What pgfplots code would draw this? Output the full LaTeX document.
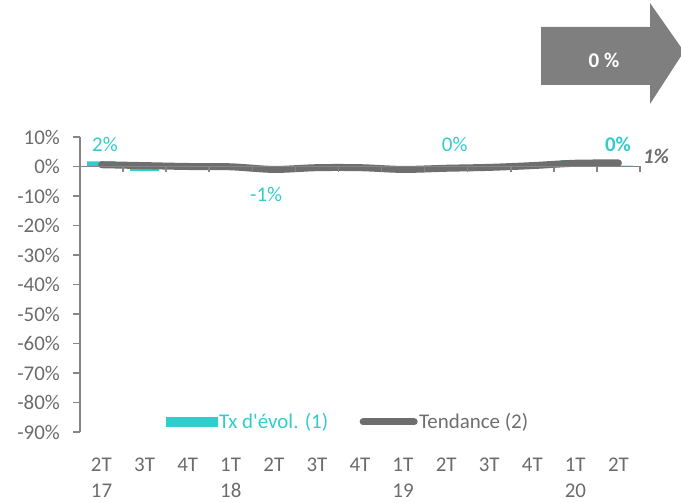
\documentclass[border=0pt]{standalone}
\usepackage{pgfplots}
\pgfplotsset{compat=1.18}
\usepackage{fontspec}
\setmainfont{Carlito}
\definecolor{tealc}{HTML}{33CCCC}
\definecolor{trend}{HTML}{6E6E6E}
\definecolor{axc}{HTML}{858585}
\definecolor{txt}{HTML}{6B6B6B}
\definecolor{arrowc}{HTML}{7F7F7F}
\newcommand{\cf}{\fontsize{21}{26}\selectfont}
\begin{document}
\cf
\begin{tikzpicture}[font=\cf]
\useasboundingbox (0bp,0bp) rectangle (681bp,503bp);
\fill[arrowc] (541bp,418bp) -- (650bp,418bp) -- (650bp,399bp) -- (684bp,451.5bp) -- (650bp,500bp) -- (650bp,476bp) -- (541bp,476bp) -- cycle;
\node[text=white,font=\cf\bfseries] at (604bp,443bp) {0 \%};

\begin{axis}[at={(80bp,71bp)}, anchor=south west, scale only axis, width=560bp, height=295bp,
  xmin=-0.5, xmax=12.5, ymin=-90, ymax=10,
  axis y line*=left, axis x line*=bottom, x axis line style={draw=none},
  y axis line style={axc, line width=1.5bp},
  ytick={-90,-80,...,10},
  yticklabels={-90\%,-80\%,-70\%,-60\%,-50\%,-40\%,-30\%,-20\%,-10\%,0\%,10\%},
  ytick align=outside, major tick length=7bp,
  y tick style={axc, line width=1.5bp},
  x tick style={draw=none},
  xtick={0,...,12},
  xticklabels={{2T\\17},3T,4T,{1T\\18},2T,3T,4T,{1T\\19},2T,3T,4T,{1T\\20},2T},
  xticklabel style={align=left, anchor=north, yshift=-19bp, font=\cf, text=txt},
  yticklabel style={font=\cf, text=txt, xshift=-6bp},
  legend style={at={(0.478,0.034)}, anchor=center, draw=none, fill=none,
    legend columns=2, font=\cf, nodes={inner sep=1.5bp},
    /tikz/every even column/.append style={column sep=30bp}},
  clip=false,
]
\addplot[ybar, bar width=0.67, fill=tealc, draw=none,
  legend image code/.code={\fill[tealc] (0bp,-5bp) rectangle (52bp,5bp);}]
  coordinates {(0,1.7) (1,-1.5) (2,0) (3,0) (4,-0.8) (5,0.5) (6,0) (7,0) (8,0.2) (9,0.3) (10,0) (11,2.2) (12,0.3)};
\addlegendentry{\textcolor{tealc}{Tx d\textquotesingle évol. (1)}}
\addplot[trend, line width=7bp, line cap=round, smooth, tension=0.5,
  legend image code/.code={\draw[trend, line width=7bp, line cap=round] (3.5bp,0) -- (54.5bp,0);}]
  coordinates {(0,0.6) (1,0.3) (2,0) (3,-0.1) (4,-1.0) (5,-0.4) (6,-0.4) (7,-1.0) (8,-0.6) (9,-0.3) (10,0.3) (11,1.1) (12,1.2)};
\addlegendentry{\textcolor{trend}{Tendance (2)}}
\node[text=tealc] at (axis cs:0.08,7.5) {2\%};
\node[text=tealc] at (axis cs:3.82,-9.5) {-1\%};
\node[text=tealc] at (axis cs:8.2,7.5) {0\%};
\node[text=tealc, font=\cf\bfseries] at (axis cs:11.99,7.5) {0\%};
\node[text=trend, font=\cf\bfseries\itshape] at (axis cs:12.87,3.4) {1\%};
\end{axis}

\begin{axis}[at={(80bp,71bp)}, anchor=south west, scale only axis, width=560bp, height=295bp,
  xmin=-0.5, xmax=12.5, ymin=-90, ymax=10,
  axis x line*=middle, axis y line=none,
  xtick={0.5,1.5,...,12.5}, xticklabels={}, ytick=\empty,
  xtick align=outside, major tick length=6bp,
  x axis line style={axc, line width=1.5bp},
  x tick style={axc, line width=1.5bp},
]
\addplot[draw=none] coordinates {(0,0)};
\end{axis}
\end{tikzpicture}
\end{document}
